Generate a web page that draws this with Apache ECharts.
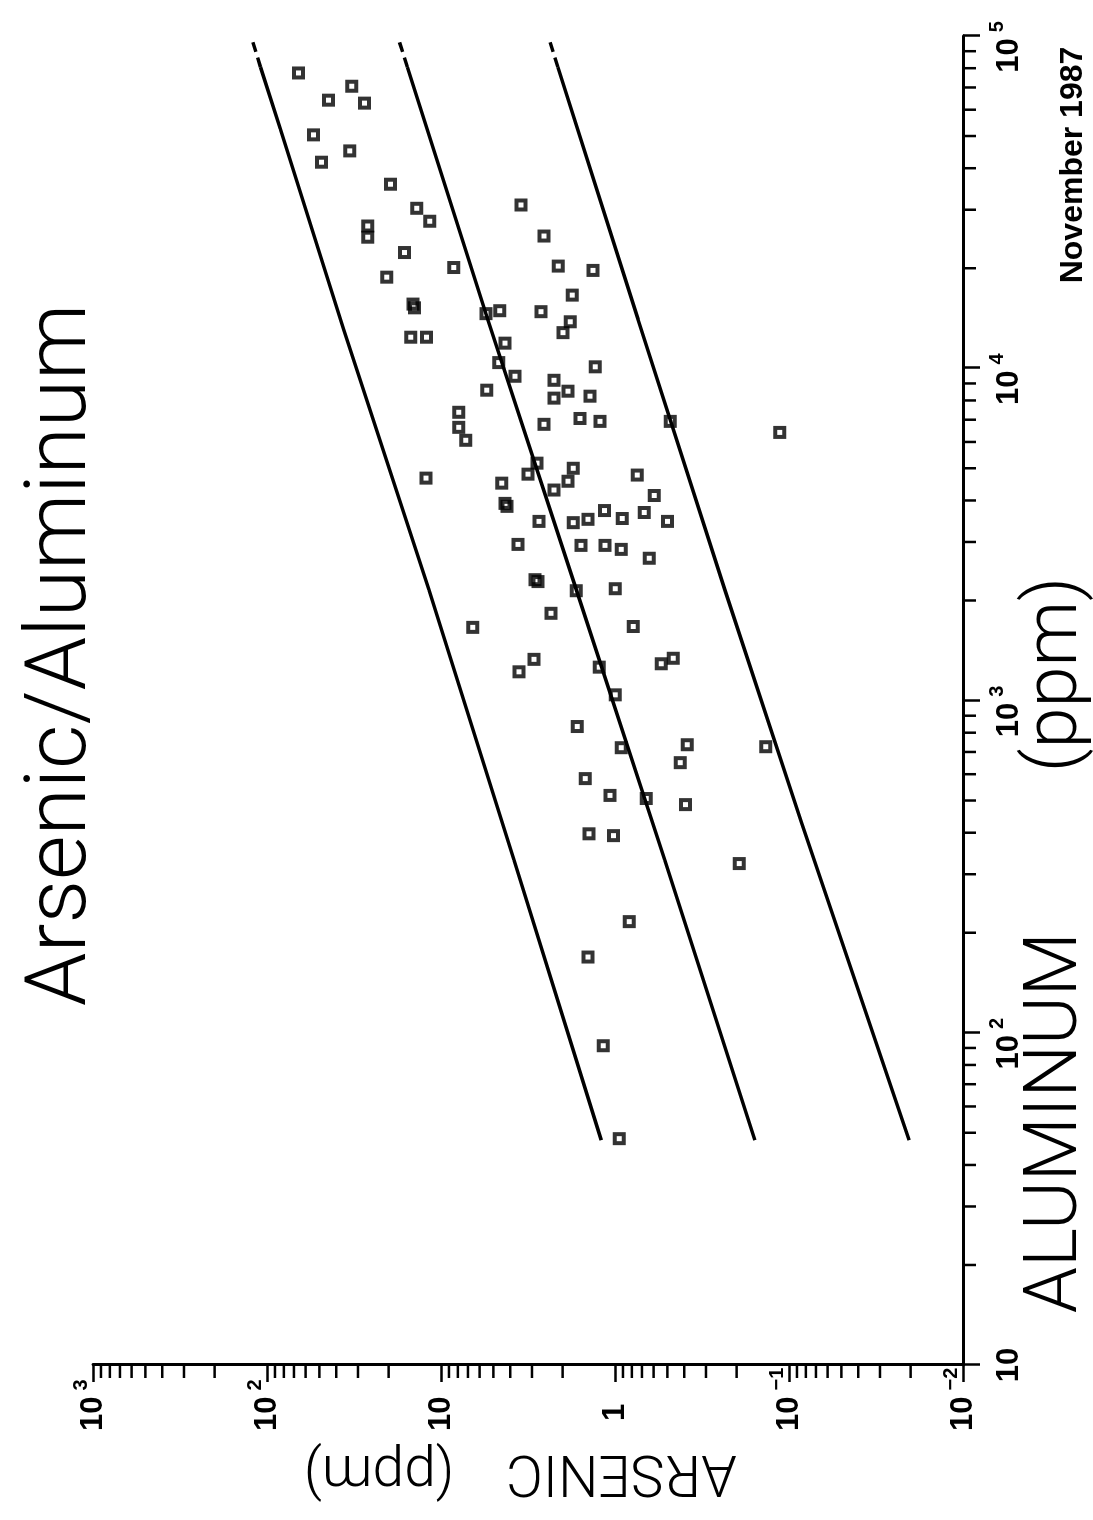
<!DOCTYPE html>
<html>
<head>
<meta charset="utf-8">
<title>Arsenic/Aluminum</title>
<script src="https://cdn.jsdelivr.net/npm/echarts@6/dist/echarts.min.js"></script>
<style>
  html, body { margin: 0; padding: 0; background: #fff; overflow: hidden; }
  body { width: 1093px; height: 1520px; position: relative; }
  /* the scanned sheet is the plot turned a quarter turn anticlockwise */
  #chart {
    position: absolute; left: 0; top: 0;
    width: 1520px; height: 1093px;
    transform-origin: 0 0;
    transform: translateY(1520px) rotate(-90deg);
  }
</style>
</head>
<body>
<div id="chart"></div>
<script>
// ── samples (ppm) ──
const aluminum = [
  77400, 70600, 64100, 62800, 50400, 45100, 41700, 35800, 30300, 27700,
  26800, 24800, 22300, 20100, 18800, 15600, 15200, 14600, 14900, 31000,
  25000, 20300, 19700, 16600, 14800, 13800, 12400, 12400, 11900, 10400,
  9460, 8590, 7370, 6640, 6070, 5180, 4800, 4670, 4510, 3920,
  3840, 2950, 2310, 2280, 12800, 10100, 9200, 8530, 8130, 8240,
  6780, 7060, 6920, 6920, 6410, 5000, 4570, 4300, 4770, 4140,
  3460, 3430, 3510, 3730, 3530, 3680, 3460, 2930, 2930, 2850,
  2680, 2140, 2170, 1660, 1220, 1330, 1830, 1670, 1260, 1290,
  1340, 1040, 835, 721, 736, 650, 726, 582, 518, 507,
  486, 397, 392, 323, 216, 169, 91.4, 48.0
];
const arsenic = [
  65.9, 32.6, 44.3, 27.5, 54.0, 33.5, 48.6, 19.5, 13.8, 11.6,
  26.4, 26.4, 16.2, 8.44, 20.5, 14.5, 14.2, 5.52, 4.59, 3.47,
  2.56, 2.12, 1.34, 1.76, 2.66, 1.81, 14.9, 12.1, 4.29, 4.65,
  3.76, 5.45, 7.90, 7.90, 7.20, 2.81, 3.16, 12.2, 4.47, 4.29,
  4.18, 3.61, 2.88, 2.77, 1.99, 1.30, 2.24, 1.86, 2.24, 1.39,
  2.56, 1.59, 1.22, 0.481, 0.113, 1.74, 1.86, 2.24, 0.745, 0.595,
  2.73, 1.74, 1.43, 1.15, 0.909, 0.679, 0.500, 1.57, 1.14, 0.921,
  0.635, 1.67, 0.997, 6.56, 3.56, 2.92, 2.33, 0.785, 1.23, 0.542,
  0.462, 0.997, 1.65, 0.921, 0.384, 0.421, 0.136, 1.48, 1.07, 0.661,
  0.394, 1.41, 1.02, 0.193, 0.828, 1.43, 1.17, 0.946
];

// ── the three fitted lines (solid part) ──
const upperAl = [47.5, 332, 2158, 13090, 52480, 80600];
const upperAs = [1.20, 3.81, 11.75, 36.3, 83.7, 109];
const midAl = [47.5, 332, 2158, 14060, 80600];
const midAs = [0.157, 0.519, 1.67, 5.40, 15.6];
const lowerAl = [47.5, 428, 2158, 14060, 80600];
const lowerAs = [0.0204, 0.0846, 0.234, 0.738, 2.13];

// dashed stubs at the high-aluminum end
const stubAl = [80600, 99300];
const upperStubAs = [109, 123];
const midStubAs = [15.6, 17.7];
const lowerStubAs = [2.13, 2.41];

// ── axes ──
const alRange = [10, 100000];
const asRange = [0.01, 1000];
const alDecades = [10, 100, 1000, 10000];
const asDecades = [0.01, 0.1, 1, 10, 100];
const minorSteps = [2, 3, 4, 5, 6, 7, 8, 9];

const FONT = '"Liberation Sans", Arial, sans-serif';
const THIN = 'Roboto, "Liberation Sans", sans-serif';

const zip = (xs, ys) => xs.map((x, i) => [x, ys[i]]);
const minorOf = (decades) => {
  const out = [];
  decades.forEach(d => minorSteps.forEach(k => out.push(d * k)));
  return out;
};

const expOf = v => Math.round(Math.log10(v));
const supText = e => (e < 0 ? '\u2212' + Math.abs(e) : String(e));

const tickRich = {
  b: { fontFamily: FONT, fontWeight: 'bold', fontSize: 31, lineHeight: 44, color: '#000' },
  s: { fontFamily: FONT, fontWeight: 'bold', fontSize: 20, lineHeight: 20,
       verticalAlign: 'top', color: '#000', padding: [0, 0, 0, 6] },
  q: { width: 22 },
  p1: { width: 10 }
};

function alLabel(v) {
  const e = expOf(v);
  if (e === 1) return '{b|10}';
  return '{b|10}{s|' + supText(e) + '}{q|}';
}

function asLabel(v) {
  const e = expOf(v);
  if (e === 0) return '{p1|}{b|1}';
  if (e === 1) return '{b|10}';
  return '{b|10}{s|' + supText(e) + '}';
}

function minorTicks(dim, len) {
  return function (params, api) {
    const cs = params.coordSys;
    if (dim === 'x') {
      const x = api.coord([api.value(0), 1])[0];
      const y0 = cs.y + cs.height;
      return { type: 'line', shape: { x1: x, y1: y0, x2: x, y2: y0 + len },
               style: { stroke: '#000', lineWidth: 2.5 } };
    }
    const y = api.coord([100, api.value(1)])[1];
    return { type: 'line', shape: { x1: cs.x, y1: y, x2: cs.x - len, y2: y },
             style: { stroke: '#000', lineWidth: 2.5 } };
  };
}

const lineStyle = { color: '#000', width: 3.5 };
const stubStyle = { color: '#000', width: 3.5, type: [10, 6] };

function fitLine(data, style) {
  return {
    type: 'line', data, symbol: 'none', silent: true,
    lineStyle: style, z: 2, animation: false
  };
}

const chart = echarts.init(document.getElementById('chart'), null, { renderer: 'canvas' });

chart.setOption({
  backgroundColor: '#fff',
  animation: false,
  grid: { left: 155, right: 36, top: 93, bottom: 130, containLabel: false, outerBoundsMode: 'none' },
  xAxis: {
    type: 'log', logBase: 10, min: alRange[0], max: alRange[1], splitNumber: 4,
    axisLine: { lineStyle: { color: '#000', width: 3 } },
    axisTick: { inside: false, length: 17, lineStyle: { color: '#000', width: 2.5 } },
    axisLabel: { margin: 24, formatter: alLabel, rich: tickRich, color: '#000' },
    splitLine: { show: false }
  },
  yAxis: {
    type: 'log', logBase: 10, min: asRange[0], max: asRange[1], splitNumber: 5,
    axisLine: { lineStyle: { color: '#000', width: 3 } },
    axisTick: { inside: false, length: 17, lineStyle: { color: '#000', width: 2.5 } },
    axisLabel: { margin: 66, align: 'left', formatter: asLabel, rich: tickRich, color: '#000' },
    splitLine: { show: false }
  },
  graphic: [
    {
      type: 'text', x: 865, y: 63, silent: true,
      style: { text: 'Arsenic/Aluminum', fontFamily: THIN, fontWeight: 300, fontSize: 86,
               fill: '#000', align: 'center', verticalAlign: 'middle' }
    },
    {
      type: 'text', x: 575, y: 1057, silent: true,
      style: {
        text: '{a|ALUMINUM}{g|}{a|(ppm)}',
        rich: {
          a: { fontFamily: THIN, fontWeight: 300, fontSize: 74, color: '#000' },
          g: { width: 160 }
        },
        align: 'center', verticalAlign: 'middle'
      }
    },
    {
      type: 'text', x: 50, y: 520, rotation: Math.PI / 2, silent: true,
      style: {
        text: '{a|ARSENIC}{g|}{a|(ppm)}',
        rich: {
          a: { fontFamily: THIN, fontWeight: 300, fontSize: 57, color: '#000' },
          g: { width: 52 }
        },
        align: 'center', verticalAlign: 'middle'
      }
    },
    {
      type: 'text', x: 1355, y: 1073, silent: true,
      style: { text: 'November 1987', fontFamily: FONT, fontWeight: 'bold', fontSize: 32,
               fill: '#000', align: 'center', verticalAlign: 'middle' }
    }
  ],
  series: [
    {
      type: 'custom', name: 'al-minor', silent: true, clip: false,
      renderItem: minorTicks('x', 13),
      data: minorOf(alDecades).map(v => [v, 1])
    },
    {
      type: 'custom', name: 'as-minor', silent: true, clip: false,
      renderItem: minorTicks('y', 13),
      data: minorOf(asDecades).map(v => [100, v])
    },
    fitLine(zip(upperAl, upperAs), lineStyle),
    fitLine(zip(midAl, midAs), lineStyle),
    fitLine(zip(lowerAl, lowerAs), lineStyle),
    fitLine(zip(stubAl, upperStubAs), stubStyle),
    fitLine(zip(stubAl, midStubAs), stubStyle),
    fitLine(zip(stubAl, lowerStubAs), stubStyle),
    {
      type: 'scatter', name: 'samples', z: 3,
      data: zip(aluminum, arsenic),
      symbol: 'rect', symbolSize: 9,
      itemStyle: { color: 'rgba(0,0,0,0)', borderColor: '#000', borderWidth: 4 }
    }
  ]
});
</script>
</body>
</html>
